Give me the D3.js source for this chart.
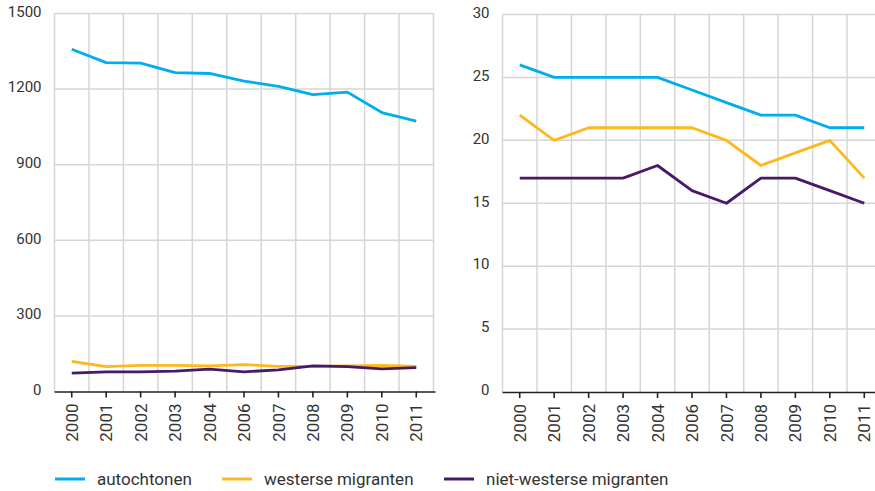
<!DOCTYPE html>
<html>
<head>
<meta charset="utf-8">
<script src="https://cdn.jsdelivr.net/npm/d3@7/dist/d3.min.js"></script>
<style>
  html, body { margin: 0; padding: 0; background: #fff; }
  svg { display: block; font-family: Roboto, "Open Sans", sans-serif; }
</style>
</head>
<body>
<svg id="chart" width="875" height="491"></svg>
<script>
// ---- data ----
const years = ["2000","2001","2002","2003","2004","2006","2007","2008","2009","2010","2011"];
const seriesNames = ["autochtonen", "westerse migranten", "niet-westerse migranten"];
const seriesColors = ["#00adee", "#ffb81c", "#46196a"];

// left panel (absolute numbers)
const leftAutochtonen = [1358, 1305, 1303, 1265, 1262, 1232, 1211, 1178, 1188, 1107, 1073];
const leftWesters     = [120, 99, 104, 104, 102, 107, 100, 100, 102, 104, 100];
const leftNietWesters = [73, 78, 78, 81, 89, 78, 86, 102, 99, 90, 95];
const leftTicks = [0, 300, 600, 900, 1200, 1500];

// right panel
const rightAutochtonen = [26, 25, 25, 25, 25, 24, 23, 22, 22, 21, 21];
const rightWesters     = [22, 20, 21, 21, 21, 21, 20, 18, 19, 20, 17];
const rightNietWesters = [17, 17, 17, 17, 18, 16, 15, 17, 17, 16, 15];
const rightTicks = [0, 5, 10, 15, 20, 25, 30];

// ---- drawing ----
const svg = d3.select("#chart");
const gridColor = "#d6d6d6";
const textColor = "#333";

function panel(left, top, width, height, ticks, series) {
  const g = svg.append("g").attr("transform", `translate(${left},${top})`);
  const x = d3.scaleBand().domain(years).range([0, width]).padding(0);
  const y = d3.scaleLinear().domain([0, d3.max(ticks)]).range([height, 0]);

  // horizontal gridlines
  g.append("g").selectAll("line").data(ticks.filter(t => t !== 0)).join("line")
    .attr("x1", 0).attr("x2", width)
    .attr("y1", d => y(d)).attr("y2", d => y(d))
    .attr("stroke", gridColor).attr("stroke-width", 1.5);

  // vertical gridlines at band boundaries
  const bounds = d3.range(years.length + 1).map(i => i * x.step());
  g.append("g").selectAll("line").data(bounds).join("line")
    .attr("x1", d => d).attr("x2", d => d)
    .attr("y1", 0).attr("y2", height)
    .attr("stroke", gridColor).attr("stroke-width", 1.5);

  // y labels
  g.append("g").selectAll("text").data(ticks).join("text")
    .attr("x", -13).attr("y", d => y(d)).attr("dy", "0.22em")
    .attr("text-anchor", "end").attr("fill", textColor)
    .attr("font-size", 15).text(d => d);

  // x axis
  const xAxis = d3.axisBottom(x).tickSize(6).tickSizeOuter(0);
  const ax = g.append("g").attr("transform", `translate(0,${height})`).call(xAxis);
  ax.select(".domain").attr("stroke", "#222").attr("stroke-width", 1.6)
    .attr("d", `M0,0.5H${width + 2}`);
  ax.selectAll(".tick line").attr("stroke", "#222").attr("stroke-width", 1.6);
  ax.selectAll(".tick text")
    .attr("transform", "rotate(-90)")
    .attr("text-anchor", "end")
    .attr("x", -12).attr("y", 0).attr("dy", "0.36em")
    .attr("font-size", 17).attr("font-family", "Roboto, sans-serif")
    .attr("fill", textColor);

  // lines
  const line = d3.line()
    .x((d, i) => x(years[i]) + x.bandwidth() / 2)
    .y(d => y(d));
  series.forEach((vals, k) => {
    g.append("path").datum(vals)
      .attr("fill", "none")
      .attr("stroke", seriesColors[k])
      .attr("stroke-width", 2.8)
      .attr("stroke-linejoin", "round")
      .attr("d", line);
  });
}

panel(54.5, 13.5, 379, 378, leftTicks, [leftAutochtonen, leftWesters, leftNietWesters]);
panel(502.5, 14.5, 379, 377.5, rightTicks, [rightAutochtonen, rightWesters, rightNietWesters]);

// legend
const legendX = [55, 222, 444];
const lg = svg.append("g");
seriesNames.forEach((name, i) => {
  lg.append("line")
    .attr("x1", legendX[i]).attr("x2", legendX[i] + 30)
    .attr("y1", 479).attr("y2", 479)
    .attr("stroke", seriesColors[i]).attr("stroke-width", 3);
  lg.append("text")
    .attr("x", legendX[i] + 42).attr("y", 479).attr("dy", "0.35em")
    .attr("font-size", 17).attr("fill", textColor)
    .text(name);
});
</script>
</body>
</html>
